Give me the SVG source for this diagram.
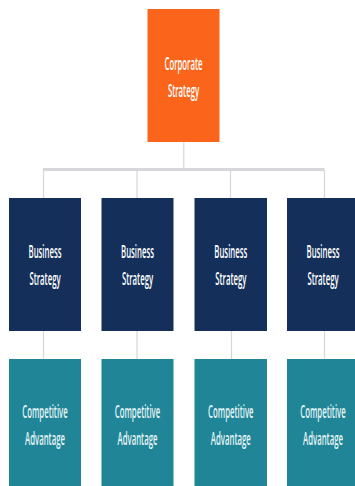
<svg xmlns="http://www.w3.org/2000/svg" width="355" height="486" viewBox="0 0 355 486">
<style>
.o{fill:#fb651b}.b{fill:#142f5a}.t{fill:#1f8597}
text{font-family:"Open Sans","Noto Sans","Liberation Sans",sans-serif;font-size:18.5px;font-weight:600;text-anchor:middle;fill:#fff}
.w{fill:#e6f4f6}
#connectors path{fill:none;stroke:#d6d6db}
</style>
<rect width="355" height="486" fill="#fff"/>
<g id="connectors">
<path stroke-width="1.2" d="M183.8 142V169"/>
<path stroke-width="3" d="M43 169.5H324.5"/>
<path stroke-width="1.2" d="M43.5 170V198M137 170V198M230.5 170V198M324.5 170V198"/>
<path stroke-width="1.2" d="M43.5 331V359M137 331V359M231.5 331V359M324.5 331V359"/>
</g>
<g id="corporate"><rect class="o" x="147.5" y="9" width="72" height="133"/>
<text transform="translate(183.5 70) scale(.42 1)">Corporate</text>
<text transform="translate(183.5 96.5) scale(.42 1)">Strategy</text></g>
<g id="business-1"><rect class="b" x="9" y="198" width="72" height="133"/>
<text transform="translate(45 258) scale(.42 1)">Business</text>
<text transform="translate(45 284.5) scale(.42 1)">Strategy</text></g>
<g id="business-2"><rect class="b" x="101.5" y="198" width="72" height="133"/>
<text transform="translate(137.5 258) scale(.42 1)">Business</text>
<text transform="translate(137.5 284.5) scale(.42 1)">Strategy</text></g>
<g id="business-3"><rect class="b" x="194.5" y="198" width="72.5" height="133"/>
<text transform="translate(230.8 258) scale(.42 1)">Business</text>
<text transform="translate(230.8 284.5) scale(.42 1)">Strategy</text></g>
<g id="business-4"><rect class="b" x="287" y="198" width="68" height="133"/>
<text transform="translate(323 258) scale(.42 1)">Business</text>
<text transform="translate(323 284.5) scale(.42 1)">Strategy</text></g>
<g id="competitive-1"><rect class="t" x="9" y="359" width="72" height="127"/>
<text class="w" transform="translate(45 418) scale(.42 1)">Competitive</text>
<text class="w" transform="translate(45 444.5) scale(.42 1)">Advantage</text></g>
<g id="competitive-2"><rect class="t" x="101.5" y="359" width="72" height="127"/>
<text class="w" transform="translate(137.5 418) scale(.42 1)">Competitive</text>
<text class="w" transform="translate(137.5 444.5) scale(.42 1)">Advantage</text></g>
<g id="competitive-3"><rect class="t" x="194.5" y="359" width="72.5" height="127"/>
<text class="w" transform="translate(230.8 418) scale(.42 1)">Competitive</text>
<text class="w" transform="translate(230.8 444.5) scale(.42 1)">Advantage</text></g>
<g id="competitive-4"><rect class="t" x="287" y="359" width="68" height="127"/>
<text class="w" transform="translate(323 418) scale(.42 1)">Competitive</text>
<text class="w" transform="translate(323 444.5) scale(.42 1)">Advantage</text></g>
</svg>
